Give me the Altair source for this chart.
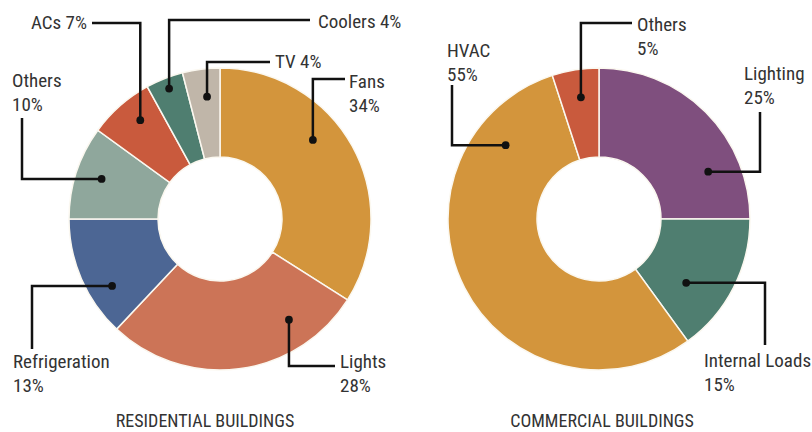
import math
import altair as alt
import pandas as pd

# ---------------- data ----------------
res_names = ["Fans", "Lights", "Refrigeration", "Others", "ACs", "Coolers", "TV"]
res_values = [34, 28, 13, 10, 7, 4, 4]
com_names = ["Lighting", "Internal Loads", "HVAC", "Others"]
com_values = [25, 15, 55, 5]
titles = ["RESIDENTIAL BUILDINGS", "COMMERCIAL BUILDINGS"]

# ---------------- styles / layout ----------------
res_colors = ["#D3953C", "#CC7457", "#4C6694", "#8FA79C", "#C95A3D", "#4F7E70", "#C0B6A9"]
com_colors = ["#7F4F7E", "#4F7E70", "#D3953C", "#C95A3D"]

W, H = 812, 432
CENTERS = [(220, 219), (599, 219)]
R_OUT, R_IN = 151, 62
FONT = "Roboto Condensed, Liberation Sans Narrow, sans-serif"
TXT = "#333333"

# per slice: fraction along slice, dot radius, elbow mode, end x, end y,
#            label x, label baseline y, two lines?, align
res_layout = [
    (0.405, 122, "v", 345, 79, 349, 88, True, "left"),
    (0.23, 122, "v", 335, 366, 340, 368, True, "left"),
    (0.32, 127, "h", 32, 349, 13, 368, True, "left"),
    (0.52, 125, "h", 22, 118, 12, 87, True, "left"),
    (0.60, 127, "v", 92, 23, 87, 29, False, "right"),
    (0.52, 140, "v", 310, 20, 318, 28, False, "left"),
    (0.58, 123, "v", 270, 62, 275, 68, False, "left"),
]
com_layout = [
    (0.74, 119, "h", 760, 112, 744, 80, True, "left"),
    (0.67, 108, "h", 765, 345, 704, 367, True, "left"),
    (0.83, 119, "h", 452, 85, 447, 57, True, "left"),
    (0.53, 123, "v", 632, 23, 637, 31, True, "left"),
]
title_pos = [(205, 427), (602, 427)]

# ---------------- build tables ----------------
def build(names, values, colors, layout, center, key):
    arcs = pd.DataFrame({"name": names, "value": values, "color": colors,
                         "idx": list(range(len(names)))})
    dots, lines, labels = [], [], []
    total = sum(values)
    cum = 0
    cx, cy = center
    for i, (n, v) in enumerate(zip(names, values)):
        frac, r, mode, ex, ey, lx, ly, two, al = layout[i]
        a = (cum + frac * v) / total * 2 * math.pi
        cum += v
        dx = cx + r * math.sin(a)
        dy = cy - r * math.cos(a)
        dots.append({"x": dx, "y": dy})
        elbow = (dx, ey) if mode == "v" else (ex, dy)
        gid = f"{key}{i}"
        for s, (px, py) in enumerate([(dx, dy), elbow, (ex, ey)]):
            lines.append({"id": gid, "s": s, "x": px, "y": py})
        txt = f"{n}\n{v}%" if two else f"{n} {v}%"
        labels.append({"x": lx, "y": ly, "text": txt, "align": al})
    return arcs, dots, lines, labels

res_arcs, d1, l1, t1 = build(res_names, res_values, res_colors, res_layout, CENTERS[0], "r")
com_arcs, d2, l2, t2 = build(com_names, com_values, com_colors, com_layout, CENTERS[1], "c")
dots = pd.DataFrame(d1 + d2)
lines = pd.DataFrame(l1 + l2)
labels = pd.DataFrame(t1 + t2)
tdf = pd.DataFrame({"x": [p[0] for p in title_pos], "y": [p[1] for p in title_pos],
                    "text": titles})

X = lambda: alt.X("x:Q", scale=alt.Scale(domain=[0, W], nice=False, zero=False), axis=None)
Y = lambda: alt.Y("y:Q", scale=alt.Scale(domain=[0, H], nice=False, zero=False, reverse=True), axis=None)


def donut(df, center):
    return alt.Chart(df).mark_arc(outerRadius=R_OUT, innerRadius=R_IN,
                                  stroke="#FBF8F0", strokeWidth=1.5).encode(
        theta=alt.Theta("value:Q", stack=True),
        order=alt.Order("idx:Q"),
        color=alt.Color("color:N", scale=None),
        x=alt.value(center[0]),
        y=alt.value(center[1]),
    )

arc1 = donut(res_arcs, CENTERS[0])
arc2 = donut(com_arcs, CENTERS[1])

leader = alt.Chart(lines).mark_line(color="#111111", strokeWidth=2.5,
                                    strokeJoin="miter", strokeCap="butt").encode(
    x=X(), y=Y(), detail="id:N", order="s:Q")
pts = alt.Chart(dots).mark_circle(color="#111111", size=60, opacity=1).encode(x=X(), y=Y())

lab_left = alt.Chart(labels[labels["align"] == "left"]).mark_text(
    align="left", baseline="alphabetic", font=FONT, fontSize=19, color=TXT,
    lineBreak="\n", lineHeight=24).encode(x=X(), y=Y(), text="text:N")
lab_right = alt.Chart(labels[labels["align"] == "right"]).mark_text(
    align="right", baseline="alphabetic", font=FONT, fontSize=19, color=TXT,
    lineBreak="\n", lineHeight=24).encode(x=X(), y=Y(), text="text:N")
ttl = alt.Chart(tdf).mark_text(align="center", baseline="alphabetic", font=FONT,
                               fontSize=18, color=TXT).encode(x=X(), y=Y(), text="text:N")

chart = alt.layer(arc1, arc2, leader, pts, lab_left, lab_right, ttl).properties(
    width=W, height=H, padding=0, autosize=alt.AutoSizeParams(type="none")
).configure_view(stroke=None)

chart.save("out.html", embed_options={"renderer": "svg", "actions": False})
